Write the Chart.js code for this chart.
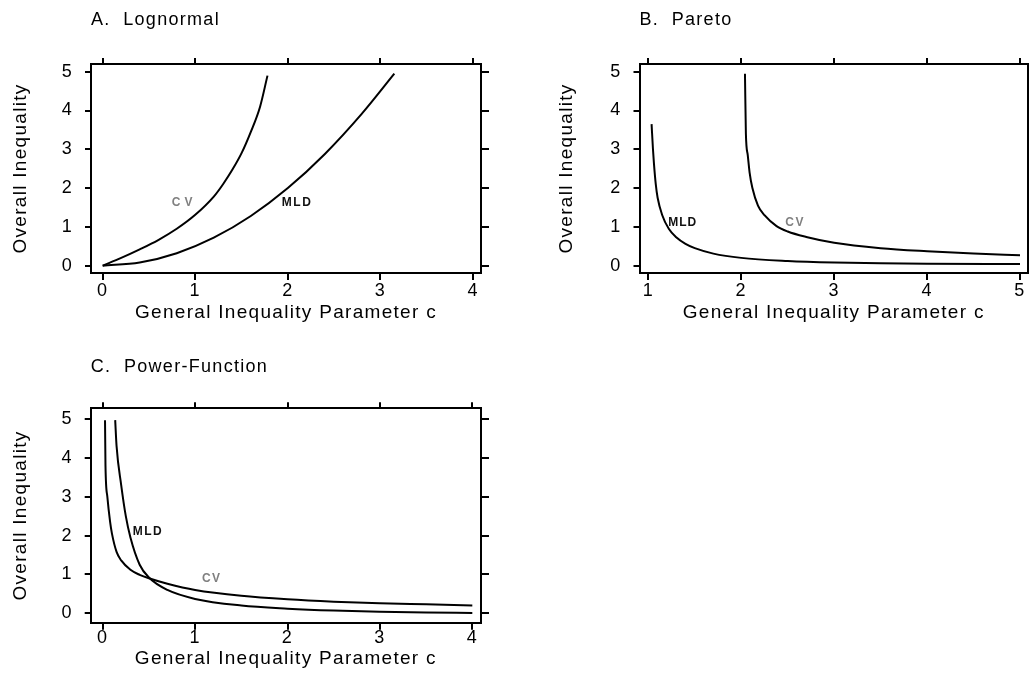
<!DOCTYPE html>
<html>
<head>
<meta charset="utf-8">
<script src="https://cdn.jsdelivr.net/npm/chart.js@4.4.1/dist/chart.umd.min.js"></script>
<style>
  body { margin: 0; background: #fff; }
  #wrap { position: relative; width: 1029px; height: 673px; overflow: hidden; background: #fff; }
  canvas { position: absolute; }
</style>
</head>
<body>
<div id="wrap">
  <canvas id="chartA" width="505" height="335" style="left:0;top:0"></canvas>
  <canvas id="chartB" width="519" height="335" style="left:510px;top:0"></canvas>
  <canvas id="chartC" width="505" height="333" style="left:0;top:340px"></canvas>
</div>
<script>
// A. Lognormal
const lnCvX  = [0, 0.2, 0.4, 0.6, 0.8, 1.0, 1.2, 1.3, 1.4, 1.5, 1.6, 1.7, 1.78];
const lnCvY  = [0, 0.2, 0.42, 0.66, 0.95, 1.31, 1.78, 2.1, 2.47, 2.9, 3.45, 4.1, 4.9];
const lnMldX = [0, 0.4, 0.8, 1.2, 1.6, 2.0, 2.4, 2.8, 3.15];
const lnMldY = [0, 0.08, 0.32, 0.72, 1.28, 2.0, 2.88, 3.92, 4.95];

// B. Pareto
const paMldX = [1.035, 1.05, 1.06, 1.08, 1.1, 1.15, 1.22, 1.3, 1.4, 1.5, 1.7, 2.0, 2.5, 3.0, 3.5, 4.0, 5.0];
const paMldY = [3.65, 3.0, 2.65, 2.1, 1.75, 1.3, 0.95, 0.73, 0.56, 0.45, 0.31, 0.2, 0.12, 0.08, 0.06, 0.05, 0.04];
const paCvX  = [2.04, 2.05, 2.07, 2.09, 2.12, 2.18, 2.25, 2.38, 2.5, 2.7, 3.0, 3.5, 4.0, 4.5, 5.0];
const paCvY  = [4.95, 3.4, 2.85, 2.4, 2.0, 1.55, 1.3, 1.02, 0.88, 0.74, 0.59, 0.45, 0.37, 0.31, 0.27];

// C. Power-Function
const pfCvX  = [0.025, 0.03, 0.05, 0.08, 0.1, 0.15, 0.2, 0.3, 0.4, 0.5, 0.7, 1.0, 1.5, 2.0, 2.5, 3.0, 3.5, 4.0];
const pfCvY  = [4.97, 3.8, 3.0, 2.35, 2.05, 1.58, 1.36, 1.12, 0.99, 0.9, 0.76, 0.6, 0.45, 0.36, 0.3, 0.26, 0.23, 0.2];
const pfMldX = [0.135, 0.15, 0.2, 0.25, 0.3, 0.4, 0.5, 0.7, 1.0, 1.5, 2.0, 2.5, 3.0, 3.5, 4.0];
const pfMldY = [4.97, 4.3, 3.3, 2.5, 1.95, 1.25, 0.92, 0.6, 0.37, 0.2, 0.12, 0.07, 0.04, 0.02, 0.01];

// tick labels
const yTicks  = [0, 1, 2, 3, 4, 5];
const xTicksA = [0, 1, 2, 3, 4];
const xTicksB = [1, 2, 3, 4, 5];

const FONT = "'Liberation Sans', Arial, sans-serif";

// letter spacing for the old-style wide text
const spacing = { id: 'spacing', beforeDraw(chart) { chart.ctx.letterSpacing = '1.3px'; } };

function curveLabels(list) {
  return {
    id: 'curveLabels',
    afterDatasetsDraw(chart) {
      const ctx = chart.ctx;
      list.forEach(l => {
        ctx.save();
        ctx.letterSpacing = l.sp + 'px';
        ctx.font = 'bold 12px ' + FONT;
        ctx.fillStyle = l.color;
        ctx.textAlign = 'center';
        ctx.textBaseline = 'middle';
        ctx.fillText(l.text, chart.scales.x.getPixelForValue(l.x), chart.scales.y.getPixelForValue(l.y));
        ctx.restore();
      });
    }
  };
}

function makePanel(id, p) {
  const pts = (xs, ys) => xs.map((x, i) => ({ x: x, y: ys[i] }));
  const setTicks = vals => s => { s.ticks = vals.map(v => ({ value: v })); };
  const grid = len => ({ drawOnChartArea: false, tickLength: len, color: '#000', lineWidth: 2 });
  const border = { display: true, color: '#000', width: 2 };
  const tickFont = { family: FONT, size: 18 };
  const titleFont = { family: FONT, size: 19 };

  new Chart(document.getElementById(id), {
    type: 'scatter',
    data: {
      datasets: p.series.map(s => ({
        data: pts(s[0], s[1]), showLine: true, borderColor: '#000', borderWidth: 2,
        pointRadius: 0, cubicInterpolationMode: 'monotone', fill: false
      }))
    },
    options: {
      responsive: false, animation: false,
      layout: { padding: 0 },
      plugins: {
        legend: { display: false }, tooltip: { enabled: false },
        title: { display: true, text: p.title, align: 'start', fullSize: false, color: '#000',
                 font: { family: FONT, size: 18, weight: 'normal' }, padding: { top: p.titlePad, bottom: 0 } }
      },
      scales: {
        x: { type: 'linear', position: 'bottom', min: p.xMin, max: p.xMax,
             afterBuildTicks: setTicks(p.xTicks), grid: grid(7), border: border,
             ticks: { font: tickFont, color: '#000', padding: p.xLabPad, maxRotation: 0, autoSkip: false },
             title: { display: true, text: 'General Inequality Parameter c', color: '#000', font: titleFont,
                      padding: { top: 0, bottom: p.xTitlePad } },
             afterFit: s => { s.height = p.bottomH; } },
        x2: { type: 'linear', position: 'top', min: p.xMin, max: p.xMax,
              afterBuildTicks: setTicks(p.xTicks), grid: grid(6), border: border,
              ticks: { display: false },
              afterFit: s => { s.height = p.topH; } },
        y: { type: 'linear', position: 'left', min: p.yMin, max: p.yMax,
             afterBuildTicks: setTicks(yTicks), grid: grid(6), border: border,
             ticks: { font: tickFont, color: '#000', padding: 12 },
             title: { display: true, text: 'Overall Inequality', color: '#000', font: titleFont,
                      padding: { top: p.yTitlePad, bottom: 0 } },
             afterFit: s => { s.width = p.leftW; } },
        y2: { type: 'linear', position: 'right', min: p.yMin, max: p.yMax,
              afterBuildTicks: setTicks(yTicks), grid: grid(8), border: border,
              ticks: { display: false },
              afterFit: s => { s.width = p.rightW; } }
      }
    },
    plugins: [spacing, curveLabels(p.labels)]
  });
}

makePanel('chartA', {
  title: 'A.  Lognormal', titlePad: 9.7,
  series: [[lnCvX, lnCvY], [lnMldX, lnMldY]],
  xMin: -0.126, xMax: 4.086, yMin: -0.19, yMax: 5.2, xTicks: xTicksA,
  leftW: 91, rightW: 24, topH: 32.7, bottomH: 62,
  xLabPad: 0, xTitlePad: 10.9, yTitlePad: 9.1,
  labels: [
    { text: 'CV', x: 0.88, y: 1.62, color: '#808080', sp: 4 },
    { text: 'MLD', x: 2.1, y: 1.62, color: '#111', sp: 1.5 }
  ]
});

makePanel('chartB', {
  title: 'B.  Pareto', titlePad: 9.7,
  series: [[paMldX, paMldY], [paCvX, paCvY]],
  xMin: 0.905, xMax: 5.086, yMin: -0.19, yMax: 5.2, xTicks: xTicksB,
  leftW: 129.5, rightW: 1, topH: 32.7, bottomH: 62,
  xLabPad: 0, xTitlePad: 10.9, yTitlePad: 45.6,
  labels: [
    { text: 'MLD', x: 1.37, y: 1.12, color: '#111', sp: 1 },
    { text: 'CV', x: 2.58, y: 1.12, color: '#808080', sp: 1.5 }
  ]
});

makePanel('chartC', {
  title: 'C.  Power-Function', titlePad: 16.3,
  series: [[pfCvX, pfCvY], [pfMldX, pfMldY]],
  xMin: -0.13, xMax: 4.094, yMin: -0.242, yMax: 5.275, xTicks: xTicksA,
  leftW: 90.7, rightW: 24, topH: 30.4, bottomH: 50.3,
  xLabPad: -2, xTitlePad: 3.2, yTitlePad: 9.1,
  labels: [
    { text: 'MLD', x: 0.49, y: 2.1, color: '#111', sp: 1.5 },
    { text: 'CV', x: 1.18, y: 0.9, color: '#808080', sp: 1.5 }
  ]
});
</script>
</body>
</html>
